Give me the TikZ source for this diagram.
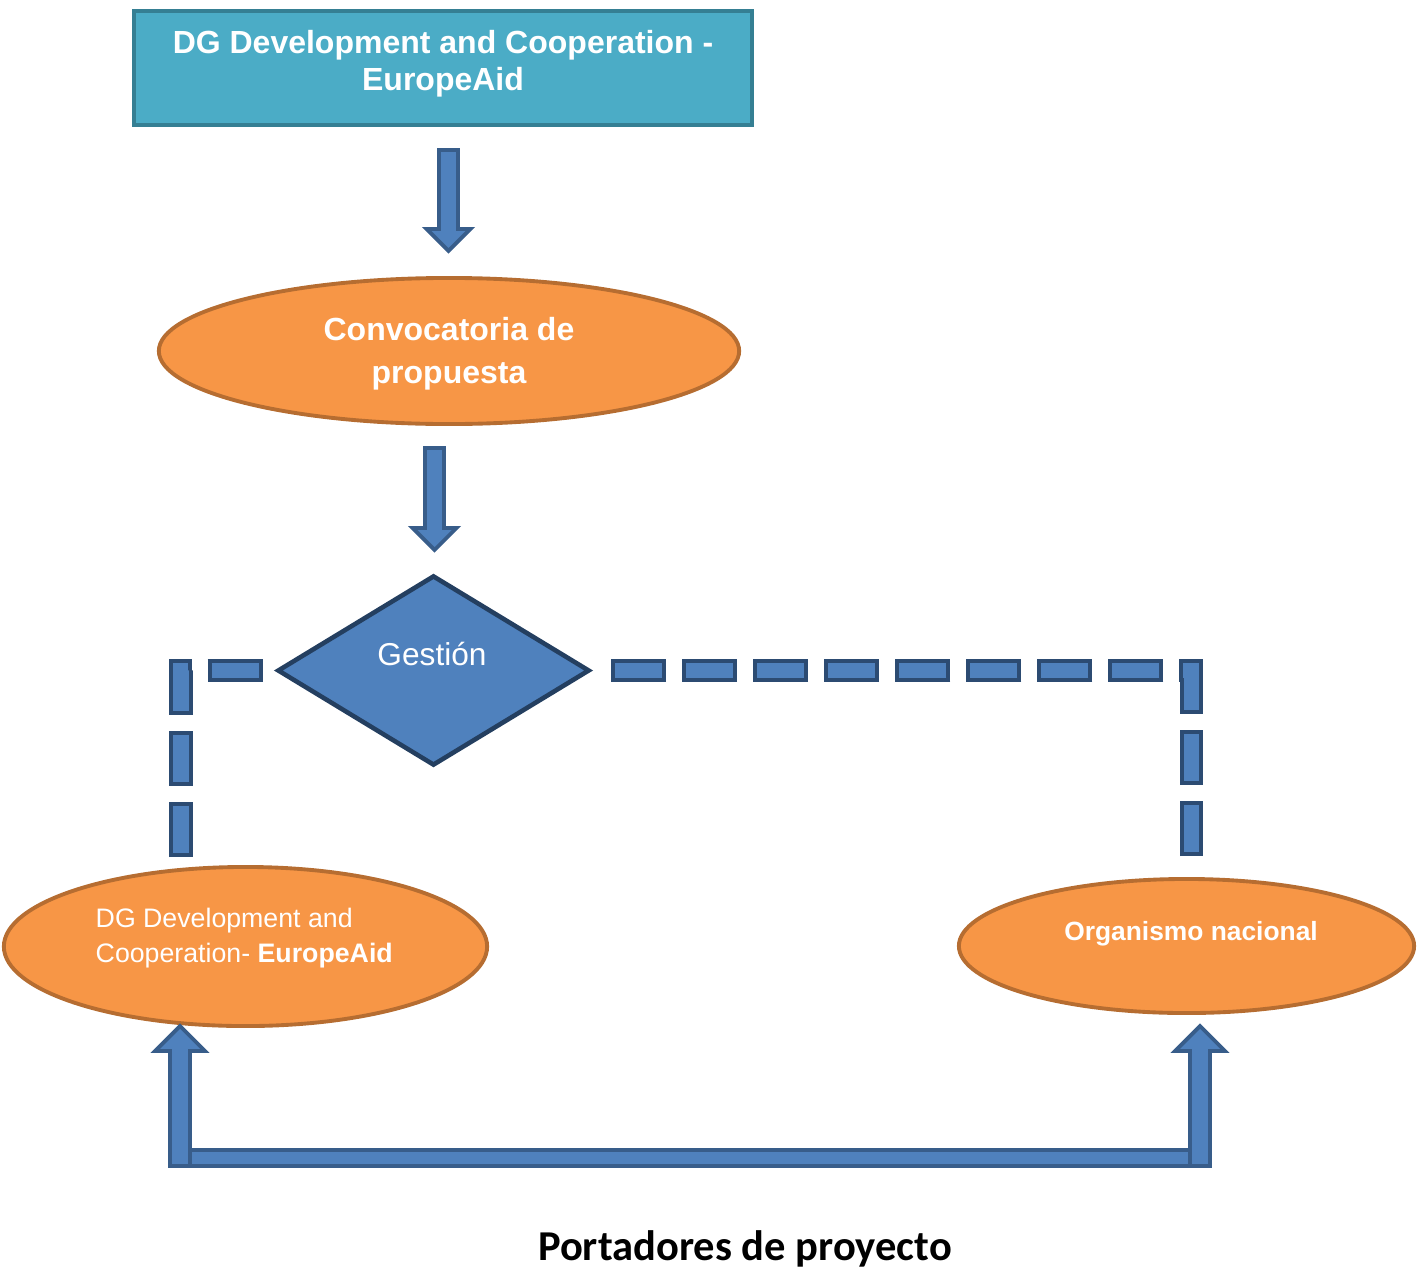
\documentclass[tikz,border=0pt]{standalone}
\usepackage{fontspec}
\setmainfont{Liberation Sans}
\newfontfamily\calfont{Carlito}
\usetikzlibrary{shapes.geometric,calc}

\definecolor{boxteal}{HTML}{4BACC6}
\definecolor{tealline}{HTML}{357F93}
\definecolor{orfill}{HTML}{F79646}
\definecolor{orline}{HTML}{B66D31}
\definecolor{bluefill}{HTML}{4F81BD}
\definecolor{navyline}{HTML}{243F60}
\definecolor{arrline}{HTML}{385D8A}
\definecolor{dashline}{HTML}{2C4B72}

\tikzset{
  dgbox/.style={draw=tealline, fill=boxteal, line width=1.1pt, inner sep=0pt,
    minimum width=6.18cm, minimum height=1.14cm},
  oval/.style={ellipse, draw=orline, fill=orfill, line width=1.1pt, inner sep=0pt,
    text=white, align=center},
  gdiamond/.style={diamond, draw=navyline, fill=bluefill, line width=1.3pt, inner sep=0pt,
    minimum width=3.12cm, minimum height=1.90cm},
  wtext/.style={text=white, inner sep=0pt},
  barrow/.style={draw=arrline, fill=bluefill, line width=1.1pt},
  dashconn/.style={draw=bluefill, line width=0.15cm, dash pattern=on 0.47cm off 0.24cm,
    dash phase=0.67cm,
    preaction={draw=dashline, line width=0.23cm, dash pattern=on 0.55cm off 0.16cm, dash phase=0cm}},
  pics/blockarrow/.style n args={3}{code={
    \draw[barrow] (-#2,0) -- (#2,0) -- (#2,#1-#3) -- (#3,#1-#3) -- (0,#1)
      -- (-#3,#1-#3) -- (-#2,#1-#3) -- cycle;}}
}

\begin{document}
\begin{tikzpicture}[x=0.01cm, y=-0.01cm]
\useasboundingbox (0,0) rectangle (1419,1273);

% top box
\node[dgbox] (dg) at (443,68) {};
\node[wtext, align=center, font=\fontsize{9.1}{10.5}\selectfont\bfseries] (dgtext) at (443,63.5)
  {DG Development and Cooperation -\\EuropeAid};

% call for proposals and management
\node[oval, minimum width=5.80cm, minimum height=1.46cm] (conv) at (449,351) {};
\node[wtext, align=center, font=\fontsize{9.1}{12.2}\selectfont\bfseries] (convtext) at (449,354)
  {Convocatoria de\\propuesta};
\node[gdiamond] (gest) at (433.5,670.5) {};
\node[wtext, font=\fontsize{9}{11}\selectfont] (gesttext) at (432,654) {Gestión};

% the two bodies at the bottom
\node[oval, minimum width=4.83cm, minimum height=1.59cm] (dgl) at (245.5,946.5) {};
\node[wtext, anchor=west, align=left, font=\fontsize{7.6}{10}\selectfont] (dgltext) at (95,938)
  {DG Development and\\Cooperation- \textbf{EuropeAid}};
\node[oval, minimum width=4.55cm, minimum height=1.34cm] (org) at (1186.5,946) {};
\node[wtext, font=\fontsize{7.5}{9}\selectfont\bfseries] (orgtext) at (1191,934) {Organismo nacional};

\node[inner sep=0pt, font=\calfont\fontsize{12.1}{14}\selectfont\bfseries] (port) at (745,1249)
  {Portadores de proyecto};

% block arrows going down
\pic at ($(dg.south)+(5.5,23)$) {blockarrow={101}{9.5}{22}};
\pic at ($(conv.south)+(-14.5,22)$) {blockarrow={102}{9.5}{22}};

% dashed links from the diamond
\coordinate (lfoot) at (181,857);
\coordinate (rfoot) at (1191,856);
\draw[dashconn] (lfoot) |- (gest.west);
\draw[dashconn, shorten >=0.12cm] (rfoot) |- (gest.east);

% bar with two arrows going up
\coordinate (pl) at (180,1158);
\coordinate (pr) at (1200,1158);
\draw[barrow] ($(pl)+(-10,-8)$) rectangle ($(pr)+(10,8)$);
\pic[rotate=180] at ($(pl)+(0,8)$) {blockarrow={140}{10}{25}};
\pic[rotate=180] at ($(pr)+(0,8)$) {blockarrow={140}{10}{25}};
\end{tikzpicture}
\end{document}
